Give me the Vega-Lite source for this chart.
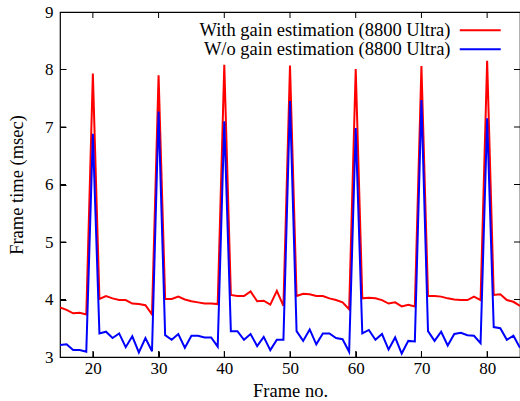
{
  "$schema": "https://vega.github.io/schema/vega-lite/v6.json",
  "width": 460,
  "height": 345,
  "autosize": "none",
  "padding": {"left": 60, "top": 12, "right": 0, "bottom": 44},
  "background": "white",
  "config": {
    "view": {"stroke": "black", "strokeWidth": 1.2},
    "font": "Liberation Serif",
    "axis": {"grid": false, "domainColor": "black", "domainOpacity": 0, "zindex": 2, "offset": -6, "ticks": true, "tickSize": 6, "tickWidth": 1, "tickColor": "black", "labelFont": "Liberation Serif", "labelFontSize": 17, "labelColor": "black", "titleFont": "Liberation Serif", "titleFontSize": 18.5, "titleFontWeight": "normal", "titleColor": "black"}
  },
  "datasets": {
    "xticks": [{"v": 20}, {"v": 30}, {"v": 40}, {"v": 50}, {"v": 60}, {"v": 70}, {"v": 80}],
    "yticks": [{"v": 4}, {"v": 5}, {"v": 6}, {"v": 7}, {"v": 8}],
    "frames": [
      {"frame": 15, "red": 3.86, "blue": 3.21},
      {"frame": 16, "red": 3.82, "blue": 3.22},
      {"frame": 17, "red": 3.76, "blue": 3.12},
      {"frame": 18, "red": 3.77, "blue": 3.12},
      {"frame": 19, "red": 3.74, "blue": 3.09},
      {"frame": 20, "red": 7.93, "blue": 6.88},
      {"frame": 21, "red": 4.01, "blue": 3.41},
      {"frame": 22, "red": 4.06, "blue": 3.44},
      {"frame": 23, "red": 4.02, "blue": 3.33},
      {"frame": 24, "red": 3.99, "blue": 3.41},
      {"frame": 25, "red": 3.99, "blue": 3.17},
      {"frame": 26, "red": 3.93, "blue": 3.36},
      {"frame": 27, "red": 3.92, "blue": 3.08},
      {"frame": 28, "red": 3.9, "blue": 3.33},
      {"frame": 29, "red": 3.74, "blue": 3.1},
      {"frame": 30, "red": 7.9, "blue": 7.27},
      {"frame": 31, "red": 4.01, "blue": 3.38},
      {"frame": 32, "red": 4.01, "blue": 3.3},
      {"frame": 33, "red": 4.05, "blue": 3.4},
      {"frame": 34, "red": 4.0, "blue": 3.16},
      {"frame": 35, "red": 3.97, "blue": 3.37},
      {"frame": 36, "red": 3.95, "blue": 3.37},
      {"frame": 37, "red": 3.93, "blue": 3.34},
      {"frame": 38, "red": 3.93, "blue": 3.34},
      {"frame": 39, "red": 3.92, "blue": 3.18},
      {"frame": 40, "red": 8.08, "blue": 7.1},
      {"frame": 41, "red": 4.08, "blue": 3.45},
      {"frame": 42, "red": 4.06, "blue": 3.45},
      {"frame": 43, "red": 4.06, "blue": 3.3},
      {"frame": 44, "red": 4.14, "blue": 3.4},
      {"frame": 45, "red": 3.97, "blue": 3.19},
      {"frame": 46, "red": 3.98, "blue": 3.35},
      {"frame": 47, "red": 3.91, "blue": 3.12},
      {"frame": 48, "red": 4.15, "blue": 3.3},
      {"frame": 49, "red": 3.89, "blue": 3.3},
      {"frame": 50, "red": 8.07, "blue": 7.45},
      {"frame": 51, "red": 4.06, "blue": 3.45},
      {"frame": 52, "red": 4.1, "blue": 3.28},
      {"frame": 53, "red": 4.09, "blue": 3.48},
      {"frame": 54, "red": 4.06, "blue": 3.22},
      {"frame": 55, "red": 4.06, "blue": 3.41},
      {"frame": 56, "red": 4.02, "blue": 3.41},
      {"frame": 57, "red": 3.99, "blue": 3.33},
      {"frame": 58, "red": 3.95, "blue": 3.31},
      {"frame": 59, "red": 3.83, "blue": 3.09},
      {"frame": 60, "red": 8.01, "blue": 6.98},
      {"frame": 61, "red": 4.02, "blue": 3.41},
      {"frame": 62, "red": 4.03, "blue": 3.47},
      {"frame": 63, "red": 4.02, "blue": 3.3},
      {"frame": 64, "red": 3.99, "blue": 3.4},
      {"frame": 65, "red": 3.93, "blue": 3.13},
      {"frame": 66, "red": 3.95, "blue": 3.34},
      {"frame": 67, "red": 3.88, "blue": 3.06},
      {"frame": 68, "red": 3.91, "blue": 3.28},
      {"frame": 69, "red": 3.88, "blue": 3.27},
      {"frame": 70, "red": 8.06, "blue": 7.47},
      {"frame": 71, "red": 4.06, "blue": 3.45},
      {"frame": 72, "red": 4.06, "blue": 3.28},
      {"frame": 73, "red": 4.05, "blue": 3.44},
      {"frame": 74, "red": 4.02, "blue": 3.2},
      {"frame": 75, "red": 4.0, "blue": 3.4},
      {"frame": 76, "red": 3.99, "blue": 3.42},
      {"frame": 77, "red": 3.99, "blue": 3.38},
      {"frame": 78, "red": 4.05, "blue": 3.37},
      {"frame": 79, "red": 3.99, "blue": 3.24},
      {"frame": 80, "red": 8.15, "blue": 7.15},
      {"frame": 81, "red": 4.08, "blue": 3.52},
      {"frame": 82, "red": 4.09, "blue": 3.5},
      {"frame": 83, "red": 3.99, "blue": 3.3},
      {"frame": 84, "red": 3.96, "blue": 3.37},
      {"frame": 85, "red": 3.89, "blue": 3.16}
    ]
  },
  "layer": [
    {
      "data": {"name": "frames"},
      "transform": [
        {"fold": ["red"], "as": ["key", "time"]},
        {"calculate": "'With gain estimation (8800 Ultra)'", "as": "series"}
      ],
      "mark": {"type": "line", "strokeWidth": 2, "clip": true},
      "encoding": {
        "x": {"field": "frame", "type": "quantitative", "scale": {"domain": [15, 85], "nice": false}, "axis": {"values": [20, 30, 40, 50, 60, 70, 80], "format": "d", "title": "Frame no.", "labelPadding": 3, "titlePadding": 5}},
        "y": {"field": "time", "type": "quantitative", "scale": {"domain": [3, 9], "nice": false, "zero": false}, "axis": {"values": [3, 4, 5, 6, 7, 8, 9], "format": "d", "title": "Frame time (msec)", "labelPadding": 7, "titlePadding": 18}},
        "color": {"field": "series", "type": "nominal", "scale": {"domain": ["With gain estimation (8800 Ultra)", "W/o gain estimation (8800 Ultra)"], "range": ["#ff0000", "#0000ff"]},
          "legend": {"title": null, "orient": "none", "legendX": 411, "legendY": 9, "symbolType": "M-4,0H4", "symbolSize": 105, "symbolStrokeWidth": 2, "labelAlign": "right", "labelOffset": -39, "labelLimit": 400, "labelFont": "Liberation Serif", "labelFontSize": 18.5, "labelColor": "black", "rowPadding": -5, "padding": 0}}
      }
    },
    {
      "data": {"name": "frames"},
      "transform": [
        {"fold": ["blue"], "as": ["key", "time"]},
        {"calculate": "'W/o gain estimation (8800 Ultra)'", "as": "series"}
      ],
      "mark": {"type": "line", "strokeWidth": 2, "clip": true},
      "encoding": {
        "x": {"field": "frame", "type": "quantitative"},
        "y": {"field": "time", "type": "quantitative"},
        "color": {"field": "series", "type": "nominal"}
      }
    },
    {
      "data": {"name": "xticks"},
      "mark": {"type": "tick", "orient": "vertical", "size": 6, "thickness": 1, "color": "black", "opacity": 1, "yOffset": -3},
      "encoding": {"x": {"field": "v", "type": "quantitative"}, "y": {"datum": 3}}
    },
    {
      "data": {"name": "xticks"},
      "mark": {"type": "tick", "orient": "vertical", "size": 6, "thickness": 1, "color": "black", "opacity": 1, "yOffset": 3},
      "encoding": {"x": {"field": "v", "type": "quantitative"}, "y": {"datum": 9}}
    },
    {
      "data": {"name": "yticks"},
      "mark": {"type": "tick", "orient": "horizontal", "size": 6, "thickness": 1, "color": "black", "opacity": 1, "xOffset": 3},
      "encoding": {"y": {"field": "v", "type": "quantitative"}, "x": {"datum": 15}}
    },
    {
      "data": {"name": "yticks"},
      "mark": {"type": "tick", "orient": "horizontal", "size": 6, "thickness": 1, "color": "black", "opacity": 1, "xOffset": -3},
      "encoding": {"y": {"field": "v", "type": "quantitative"}, "x": {"datum": 85}}
    }
  ]
}
